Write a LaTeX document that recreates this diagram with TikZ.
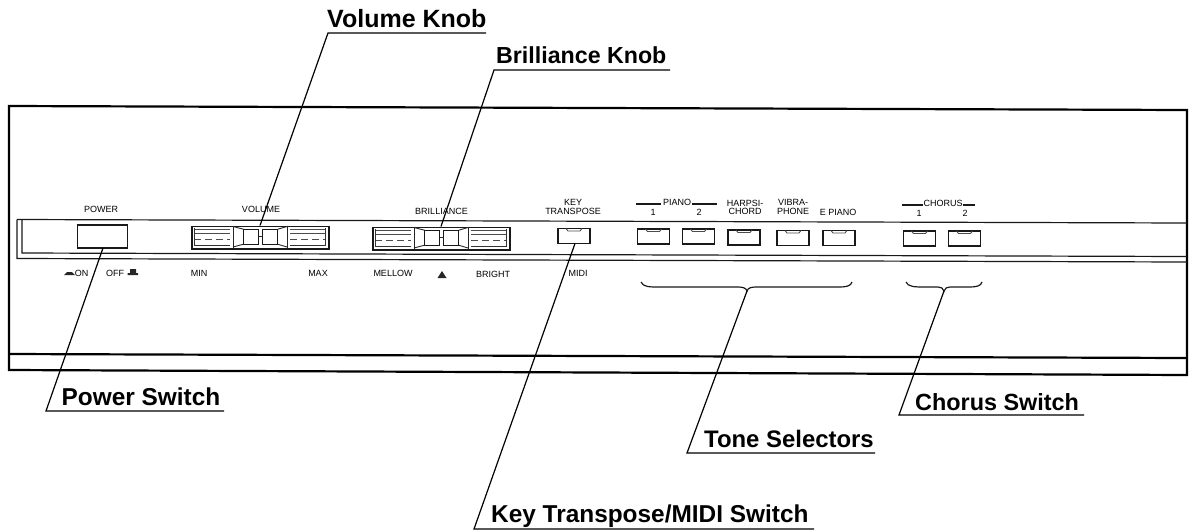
\documentclass[tikz,border=0pt]{standalone}
\usepackage{fontspec}
\setmainfont{Liberation Sans}
\tikzset{
 x=1pt,y=-1pt,
 frameline/.style={draw=black,line width=2.2pt},
 thinline/.style={draw=black!90,line width=1.2pt},
 leader/.style={draw=black,line width=1.2pt},
 panel/.style={font=\fontsize{9}{8}\selectfont,inner sep=0pt,align=center,text=black},
 callout/.style={font=\fontsize{#1}{26}\selectfont\bfseries,inner sep=0pt,anchor=base west,text=black},
 btn/.style={draw=black!90,line width=1.2pt,minimum width=32pt,minimum height=15pt,inner sep=0pt},
}
\newcommand{\keybtn}[3]{%
 \node[btn] (#1) at (#2,#3) {};
 \draw[black!70,line width=.9pt] (#2-8,#3-7.5) -- (#2-6,#3-5) -- (#2+6,#3-5) -- (#2+8,#3-7.5);}
\newcommand{\slider}[3]{% name, left, y-top
 \node[draw=black!90,line width=1.6pt,minimum width=137pt,minimum height=22.5pt,inner sep=0pt,anchor=north west] (#1) at (#2,#3) {};
 \draw[black!85,line width=.9pt] (#2+42,#3) -- (#2+42,#3+22.5) (#2+96,#3) -- (#2+96,#3+22.5);
 \draw[black!85,line width=.9pt] (#2+42,#3+1) -- (#2+52.5,#3+3.7) (#2+42,#3+21.5) -- (#2+52.5,#3+18.7);
 \draw[black!85,line width=.9pt] (#2+96,#3+1) -- (#2+86.7,#3+3.7) (#2+96,#3+21.5) -- (#2+86.7,#3+18.7);
 \draw[black!90,line width=1.2pt] (#2+52.5,#3+3.7) rectangle (#2+67.5,#3+18.7);
 \draw[black!90,line width=1.2pt] (#2+71.7,#3+3.7) rectangle (#2+86.7,#3+18.7);
 \draw[black!85,line width=.9pt] (#2+67.5,#3+11) -- (#2+71.7,#3+11);
 \draw[black!70,line width=.7pt] (#2+3,#3+4) -- (#2+39,#3+4) (#2+3,#3+8) -- (#2+39,#3+8) (#2+99,#3+4) -- (#2+134,#3+4) (#2+99,#3+8) -- (#2+134,#3+8);
 \draw[black!70,line width=.7pt,dash pattern=on 7pt off 4pt] (#2+3,#3+14) -- (#2+39,#3+14) (#2+99,#3+14) -- (#2+134,#3+14);
 \draw[black!80,line width=.8pt] (#2+3,#3+2) -- (#2+3,#3+20) -- (#2+39,#3+20) (#2+99,#3+20) -- (#2+134,#3+20) -- (#2+134,#3+2);
}
\begin{document}
\begin{tikzpicture}
\useasboundingbox (0,0) rectangle (1189,531);
% outer case
\draw[frameline] (9,106) -- (1187,110) -- (1187,375) -- (9,370) -- cycle;
\draw[frameline] (9,354) -- (1187,358);
% strip
\draw[thinline] (17,219.5) -- (1187,223);
\draw[thinline] (17,219.5) -- (17,258.5) -- (1187,262);
\draw[thinline] (22,219.5) -- (22,253) -- (1187,256.5);
% power
\node[draw=black!90,line width=1.4pt,minimum width=50pt,minimum height=23pt,inner sep=0pt] (pw) at (102.5,236.5) {};
\slider{vol}{191}{225.5}
\slider{bri}{372}{226.5}
\keybtn{key}{574}{236}
\keybtn{pia}{653.5}{236.5}
\keybtn{pib}{698.5}{236.5}
\keybtn{hrp}{744}{237.5}
\keybtn{vib}{793}{238}
\keybtn{epi}{839}{238}
\keybtn{cha}{919.5}{238.5}
\keybtn{chb}{964.5}{238.5}
% panel text
\node[panel] (t1) at (101,209) {POWER};
\node[panel] (t2) at (261,209.5) {VOLUME};
\node[panel] (t3) at (441.5,211) {BRILLIANCE};
\node[panel,font=\fontsize{9}{8.2}\selectfont] (t4) at (573,207) {KEY\\TRANSPOSE};
\node[panel] (t5) at (677,202) {PIANO};
\node[panel] (t6) at (653,212) {1};
\node[panel] (t7) at (699,212) {2};
\node[panel,font=\fontsize{9}{8.2}\selectfont] (t8) at (745,207) {HARPSI-\\CHORD};
\node[panel,font=\fontsize{9}{8.2}\selectfont] (t9) at (793,207) {VIBRA-\\PHONE};
\node[panel] (t10) at (838,212) {E PIANO};
\node[panel] (t11) at (943,203) {CHORUS};
\node[panel] (t12) at (919,213) {1};
\node[panel] (t13) at (965,213) {2};
\draw[thinline] (636,204) -- (661,204) (692,204) -- (717,204) (902,205) -- (923,205) (963,205) -- (975,205);
\node[panel] (b1) at (81.7,273) {ON};
\node[panel] (b2) at (115,273) {OFF};
\node[panel] (b3) at (199,273) {MIN};
\node[panel] (b4) at (318,273) {MAX};
\node[panel] (b5) at (393,273) {MELLOW};
\node[panel] (b6) at (493,274) {BRIGHT};
\node[panel] (b7) at (578,273) {MIDI};
\fill[black!85] (64,275) -- (67,272) -- (72,272) -- (75,275) -- cycle;
\fill[black!85] (127.5,275) rectangle (138,273) (130,273) rectangle (136,269);
\fill[black!85] (437.5,278) -- (446.5,278) -- (442,271) -- cycle;
% braces
\draw[thinline] (641,282) .. controls (643,287) and (650,287) .. (658,287) -- (738,287) .. controls (743,287) and (746,288) .. (747,291) .. controls (748,288) and (751,287) .. (756,287) -- (840,287) .. controls (846,287) and (851,286) .. (852,282);
\draw[thinline] (906,282) .. controls (908,287) and (915,287) .. (925,287) -- (938,287) .. controls (941,287) and (943,288) .. (944,291) .. controls (945,288) and (947,287) .. (950,287) -- (970,287) .. controls (976,287) and (981,286) .. (982,282);
% callouts
\node[callout=25] (lv) at (327,27) {Volume Knob};
\node[callout=23.2] (lb) at (496,63) {Brilliance Knob};
\node[callout=24.4] (lp) at (61.5,405.7) {Power Switch};
\node[callout=23.4] (lc) at (915,410) {Chorus Switch};
\node[callout=23.9] (lt) at (704,447) {Tone Selectors};
\node[callout=24.4] (lk) at (491,522) {Key Transpose/MIDI Switch};
\coordinate (a1) at (486,33); \coordinate (a2) at (328,33); \coordinate (a3) at (260,225.5);
\draw[leader] (a1) -- (a2) -- (a3);
\coordinate (c1) at (670,70); \coordinate (c2) at (494,70); \coordinate (c3) at (441,226.5);
\draw[leader] (c1) -- (c2) -- (c3);
\coordinate (d1) at (224,411); \coordinate (d2) at (46,411); \coordinate (d3) at (103,248);
\draw[leader] (d1) -- (d2) -- (d3);
\coordinate (e1) at (1084,415); \coordinate (e2) at (899,415); \coordinate (e3) at (944,291);
\draw[leader] (e1) -- (e2) -- (e3);
\coordinate (f1) at (875,453); \coordinate (f2) at (687,453); \coordinate (f3) at (747,291);
\draw[leader] (f1) -- (f2) -- (f3);
\coordinate (g1) at (814,529); \coordinate (g2) at (474,529); \coordinate (g3) at (575,243.5);
\draw[leader] (g1) -- (g2) -- (g3);
\end{tikzpicture}
\end{document}
